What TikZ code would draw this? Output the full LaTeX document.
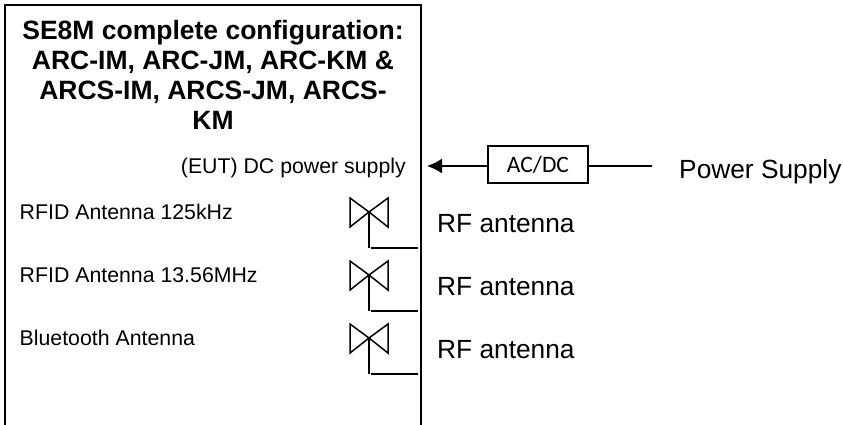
\documentclass[tikz,border=0pt]{standalone}
\usepackage{fontspec}
\usetikzlibrary{arrows.meta}
\setmainfont{Liberation Sans}
\newfontfamily\acfont{Carlito}
\tikzset{
  line/.style={draw=black,line width=2pt},
  thin line/.style={draw=black,line width=1.5pt},
  title text/.style={inner sep=0pt,font=\fontsize{26.5}{26.5}\selectfont\bfseries,anchor=base},
  small text/.style={inner sep=0pt,font=\fontsize{21.3}{21.3}\selectfont,anchor=base west},
  big text/.style={inner sep=0pt,font=\fontsize{26.3}{26.3}\selectfont,anchor=base west},
  conv/.style={draw=black,line width=1.6pt,minimum width=100pt,minimum height=37pt,inner sep=0pt,font=\acfont\fontsize{23.5}{23.5}\selectfont},
}
\newcommand{\antenna}[3]{%
  \coordinate (#1c) at (369,#2);
  \coordinate (#1k) at (369,#3);
  \coordinate (#1s) at (371,#3);
  \coordinate (#1e) at (418,#3);
  \draw[thin line] (#1c) -- ++(-19,-14) -- ++(0,29) -- (#1c) -- ++(19,-14) -- ++(0,29) -- (#1c);
  \draw[thin line] (#1c) -- (#1k);
  \draw[thin line] (#1s) -- (#1e);
}
\begin{document}
\begin{tikzpicture}[x=1pt,y=-1pt]
\useasboundingbox (0,0) rectangle (843,425);
\coordinate (bl) at (5,425);
\coordinate (tl) at (5,5);
\coordinate (tr) at (420.5,5);
\coordinate (br) at (420.5,425);
\draw[line] (bl) -- (tl) -- (tr) -- (br);
\node[title text] (t1) at (213,40) {SE8M complete configuration:};
\node[title text] (t2) at (213,70) {ARC-IM, ARC-JM, ARC-KM \&};
\node[title text] (t3) at (213,99.5) {ARCS-IM, ARCS-JM, ARCS-};
\node[title text] (t4) at (213,130) {KM};
\node[small text,anchor=base east] (eut) at (406,173.5) {(EUT) DC power supply};
\node[small text] (l1) at (19.5,219) {RFID Antenna 125kHz};
\node[small text] (l2) at (19.5,282) {RFID Antenna 13.56MHz};
\node[small text] (l3) at (19.5,345) {Bluetooth Antenna};
\antenna{a}{212}{248}
\antenna{b}{275}{311}
\antenna{c}{338}{374}
\node[big text] (r1) at (437,232) {RF antenna};
\node[big text] (r2) at (437,295) {RF antenna};
\node[big text] (r3) at (437,358) {RF antenna};
\node[conv] (ac) at (538,164.5) {AC/DC};
\coordinate (tip) at (427,166);
\coordinate (acw) at (ac.west |- tip);
\draw[line width=1.6pt,-{Latex[length=15pt,width=15pt]}] (acw) -- (tip);
\coordinate (pe) at (652,166);
\draw[line width=1.6pt] (ac.east |- pe) -- (pe);
\node[big text] (ps) at (679,178) {Power Supply};
\end{tikzpicture}
\end{document}
